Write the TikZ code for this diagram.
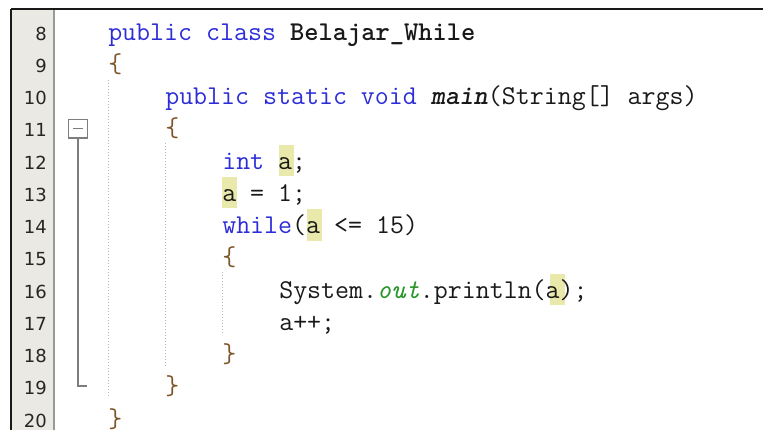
\documentclass[tikz,border=0pt]{standalone}
\usepackage{fontspec}
\newfontfamily\gutterfont{DejaVu Sans}
\usetikzlibrary{positioning}
\definecolor{kwblue}{RGB}{45,45,215}
\definecolor{fieldgreen}{RGB}{40,150,40}
\definecolor{gutterbg}{RGB}{234,233,227}
\definecolor{hlyellow}{RGB}{233,233,172}
\definecolor{bracebrown}{RGB}{125,85,40}
\definecolor{guidegray}{RGB}{185,185,185}
\definecolor{foldgray}{RGB}{125,125,125}

\newcommand\kw[1]{\textcolor{kwblue}{#1}}
\newcommand\lbr{\textcolor{bracebrown}{\{}}
\newcommand\rbr{\textcolor{bracebrown}{\}}}

\begin{document}
\begin{tikzpicture}[x=0.75pt,y=-0.75pt,
    codeline/.style={anchor=base west,inner sep=0pt,
      font=\ttfamily\fontsize{20.36}{22}\selectfont,text=black!90},
    lnum/.style={anchor=base east,inner sep=0pt,
      font=\gutterfont\fontsize{13.5}{16}\selectfont,text=black!85},
    guide/.style={guidegray,line width=0.75pt,dash pattern=on 0.75pt off 1.5pt},
    hilite/.style={fill=hlyellow}]
  \useasboundingbox (0,0) rectangle (763,430);
  % gutter and frame
  \fill[gutterbg] (12,10) rectangle (53,430);
  \draw[black!40,line width=1.1pt] (54,10) -- (54,430);
  \draw[black!90,line width=1.6pt] (11,9) -- (763,9);
  \draw[black!90,line width=1.6pt] (11,9) -- (11,430);

  % line numbers
  \foreach \n in {8,...,20}
    \node[lnum] (ln\n) at (47,{40+(\n-8)*32.25}) {\n};

  % occurrences of a
  \fill[hilite] (278.5,144.5) rectangle (293.5,176);
  \fill[hilite] (221.5,176.8) rectangle (236.5,208.3);
  \fill[hilite] (307,209) rectangle (322,240.5);
  \fill[hilite] (549.5,273.5) rectangle (564.5,305);

  % indent guides
  \draw[guide] (108,80) -- (108,398);
  \draw[guide] (165,143) -- (165,367);
  \draw[guide] (222,272) -- (222,335);

  % fold marker
  \node[draw=foldgray,line width=1pt,minimum size=14pt,inner sep=0pt,fill=white] (fold) at (78,128.5) {};
  \draw[foldgray,line width=1pt] ([xshift=-3.4pt]fold.center) -- ([xshift=3.4pt]fold.center);
  \coordinate (foldend) at (87,385.5);
  \draw[foldgray,line width=1.5pt] (fold.south) |- (foldend);

  % code
  \node[codeline] (c8)  at (108,40)     {\kw{public class} \textbf{Belajar\_While}};
  \node[codeline] (c9)  at (108,72.25)  {\lbr};
  \node[codeline] (c10) at (165,104.5)  {\kw{public static void} \textbf{\textit{main}}(String[] args)};
  \node[codeline] (c11) at (165,136.75) {\lbr};
  \node[codeline] (c12) at (222,169)    {\kw{int} a;};
  \node[codeline] (c13) at (222,201.25) {a = 1;};
  \node[codeline] (c14) at (222,233.5)  {\kw{while}(a <= 15)};
  \node[codeline] (c15) at (222,265.75) {\lbr};
  \node[codeline] (c16) at (279,298)    {System.\textcolor{fieldgreen}{\textit{out}}.println(a);};
  \node[codeline] (c17) at (279,330.25) {a++;};
  \node[codeline] (c18) at (222,362.5)  {\rbr};
  \node[codeline] (c19) at (165,394.75) {\rbr};
  \node[codeline] (c20) at (108,427)    {\rbr};
\end{tikzpicture}
\end{document}
